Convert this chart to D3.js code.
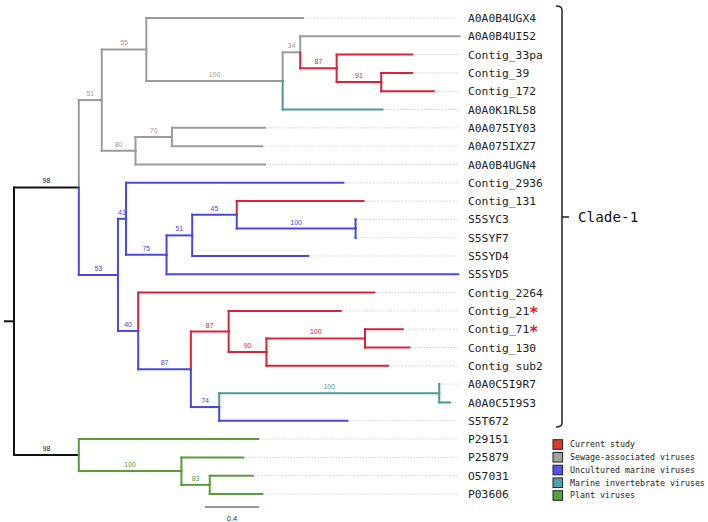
<!DOCTYPE html>
<html>
<head>
<meta charset="utf-8">
<script src="https://cdn.jsdelivr.net/npm/d3@7/dist/d3.min.js"></script>
<style>
  html, body { margin: 0; padding: 0; background: #fff; }
  svg { display: block; }
</style>
</head>
<body>
<svg id="chart" width="708" height="522"></svg>
<script>
// ---------------- DATA ----------------
const leafNames = [
  "A0A0B4UGX4","A0A0B4UI52","Contig_33pa","Contig_39","Contig_172","A0A0K1RL58",
  "A0A075IY03","A0A075IXZ7","A0A0B4UGN4","Contig_2936","Contig_131","S5SYC3",
  "S5SYF7","S5SYD4","S5SYD5","Contig_2264","Contig_21","Contig_71","Contig_130",
  "Contig sub2","A0A0C5I9R7","A0A0C5I9S3","S5T672","P29151","P25879","O57031","P03606"
];
const starredLeaves = ["Contig_21","Contig_71"];

// node id, parent id, branch length (substitutions/site), bootstrap support, group
const treeNodes = [
  ["root", "", 0, null, "root"],
  ["E", "root", 0.48, 98, "root"],
  ["G0", "root", 0.48, 98, "root"],
  ["X1", "E", 0.17, 51, "sewage"],
  ["F", "E", 0.29, 53, "marine"],
  ["A", "X1", 0.33, 55, "sewage"],
  ["C", "X1", 0.25, 80, "sewage"],
  ["A0A0B4UGX4", "A", 1.16, null, "sewage"],
  ["B", "A", 1.01, 100, "sewage"],
  ["U", "B", 0.13, 34, "sewage"],
  ["A0A0K1RL58", "B", 0.74, null, "invert"],
  ["A0A0B4UI52", "U", 1.18, null, "sewage"],
  ["V", "U", 0.27, 87, "current"],
  ["Contig_33pa", "V", 0.56, null, "current"],
  ["W", "V", 0.33, 91, "current"],
  ["Contig_39", "W", 0.23, null, "current"],
  ["Contig_172", "W", 0.39, null, "current"],
  ["D", "C", 0.27, 70, "sewage"],
  ["A0A075IY03", "D", 0.69, null, "sewage"],
  ["A0A075IXZ7", "D", 0.67, null, "sewage"],
  ["A0A0B4UGN4", "C", 0.96, null, "sewage"],
  ["G", "F", 0.06, 41, "marine"],
  ["L", "F", 0.15, 40, "marine"],
  ["Contig_2936", "G", 1.61, null, "marine"],
  ["H", "G", 0.30, 75, "marine"],
  ["I", "H", 0.19, 51, "marine"],
  ["S5SYD5", "H", 2.16, null, "marine"],
  ["J", "I", 0.33, 45, "marine"],
  ["S5SYD4", "I", 0.86, null, "marine"],
  ["Contig_131", "J", 0.94, null, "current"],
  ["K", "J", 0.88, 100, "marine"],
  ["S5SYC3", "K", 0.0, null, "marine"],
  ["S5SYF7", "K", 0.0, null, "marine"],
  ["Contig_2264", "L", 1.75, null, "current"],
  ["M", "L", 0.39, 87, "marine"],
  ["N", "M", 0.28, 87, "current"],
  ["Q", "M", 0.21, 74, "marine"],
  ["Contig_21", "N", 0.83, null, "current"],
  ["O", "N", 0.28, 90, "current"],
  ["P", "O", 0.73, 100, "current"],
  ["Contig sub2", "O", 0.90, null, "current"],
  ["Contig_71", "P", 0.28, null, "current"],
  ["Contig_130", "P", 0.33, null, "current"],
  ["R", "Q", 1.63, 100, "invert"],
  ["S5T672", "Q", 0.95, null, "marine"],
  ["A0A0C5I9R7", "R", 0.0, null, "invert"],
  ["A0A0C5I9S3", "R", 0.08, null, "invert"],
  ["P29151", "G0", 1.33, null, "plant"],
  ["S", "G0", 0.76, 100, "plant"],
  ["P25879", "S", 0.46, null, "plant"],
  ["T", "S", 0.21, 83, "plant"],
  ["O57031", "T", 0.32, null, "plant"],
  ["P03606", "T", 0.39, null, "plant"]
];

const legendLabels = ["Current study","Sewage-associated viruses","Uncultured marine viruses","Marine invertebrate viruses","Plant viruses"];
const legendGroups = ["current","sewage","marine","invert","plant"];
const cladeLabel = "Clade-1";
const scaleBarValue = 0.4;

// ---------------- STYLE ----------------
const branchColor = {root:"#111111", sewage:"#9b9b9b", current:"#d8233a", marine:"#4848dc", invert:"#4a9a9c", plant:"#5b9b3c"};
const legendColor = {current:"#db3b2b", sewage:"#a3a3a3", marine:"#5353ee", invert:"#4ba4a9", plant:"#56a33e"};
const mono = "'DejaVu Sans Mono', monospace";

// ---------------- BUILD ----------------
const svg = d3.select("#chart");

const root = d3.stratify()
  .id(d => d[0])
  .parentId(d => d[1] === "" ? null : d[1])(treeNodes);

root.eachBefore(n => { n.dist = n.parent ? n.parent.dist + n.data[2] : 0; });

const x = d3.scaleLinear().domain([0, 3.3]).range([14, 14 + 3.3 * 135]);
const yLeaf = d3.scalePoint().domain(leafNames).range([18, 494]);

root.eachAfter(n => {
  if (!n.children) n.yPos = yLeaf(n.id);
  else n.yPos = (n.children[0].yPos + n.children[n.children.length - 1].yPos) / 2;
});

const gTree = svg.append("g");
const lineEnd = 458;

// dotted leaf guides
gTree.selectAll("line.guide").data(root.leaves()).join("line")
  .attr("x1", d => x(d.dist) + 2).attr("x2", lineEnd)
  .attr("y1", d => d.yPos).attr("y2", d => d.yPos)
  .attr("stroke", "#c8c8c8").attr("stroke-width", 0.8).attr("stroke-dasharray", "1.5,1.5");

// horizontal branches
gTree.selectAll("line.h").data(root.descendants().filter(d => d.parent)).join("line")
  .attr("x1", d => x(d.parent.dist)).attr("x2", d => x(d.dist))
  .attr("y1", d => d.yPos).attr("y2", d => d.yPos)
  .attr("stroke", d => branchColor[d.data[4]]).attr("stroke-width", 2).attr("stroke-linecap", "square");

// vertical connectors, each half coloured by child
const vData = [];
root.descendants().filter(d => d.children).forEach(n => {
  n.children.forEach(c => vData.push({n, c}));
});
gTree.selectAll("line.v").data(vData).join("line")
  .attr("x1", d => x(d.n.dist)).attr("x2", d => x(d.n.dist))
  .attr("y1", d => d.n.yPos).attr("y2", d => d.c.yPos)
  .attr("stroke", d => branchColor[d.c.data[4]]).attr("stroke-width", 2).attr("stroke-linecap", "square");

// root stub
gTree.append("line")
  .attr("x1", x(0) - 10).attr("x2", x(0))
  .attr("y1", root.yPos).attr("y2", root.yPos)
  .attr("stroke", branchColor.root).attr("stroke-width", 2);

// support labels
gTree.selectAll("text.sup").data(root.descendants().filter(d => d.parent && d.data[3] != null)).join("text")
  .attr("x", d => (x(d.parent.dist) + x(d.dist)) / 2)
  .attr("y", d => d.yPos - 4)
  .attr("text-anchor", "middle")
  .attr("font-family", "'Liberation Sans', Arial, sans-serif")
  .attr("font-size", 7)
  .attr("fill", d => branchColor[d.data[4]])
  .text(d => d.data[3]);

// leaf labels
const lbl = gTree.selectAll("text.leaf").data(root.leaves()).join("text")
  .attr("x", 468).attr("y", d => d.yPos)
  .attr("dy", "0.36em")
  .attr("font-family", mono).attr("font-size", 11.3).attr("fill", "#222")
  .text(d => d.id);
lbl.filter(d => starredLeaves.includes(d.id)).append("tspan")
  .attr("fill", "#e02020").attr("font-weight", "bold").attr("font-size", 15)
  .attr("dy", "0.22em").text("*");

// clade bracket
const bx = 562, bTop = 6, bBot = 427, bMid = 217;
svg.append("path")
  .attr("d", `M${bx-6},${bTop} Q${bx},${bTop} ${bx},${bTop+4} L${bx},${bBot-4} Q${bx},${bBot} ${bx-6},${bBot} M${bx},${bMid} L${bx+7},${bMid}`)
  .attr("fill", "none").attr("stroke", "#222").attr("stroke-width", 1.5);
svg.append("text").attr("x", 578).attr("y", bMid).attr("dy", "0.36em")
  .attr("font-family", mono).attr("font-size", 14.3).attr("fill", "#111").text(cladeLabel);

// legend
const lg = svg.append("g");
legendGroups.forEach((g, i) => {
  const yy = 444.5 + i * 12.75;
  lg.append("rect").attr("x", 553).attr("y", yy - 4.8).attr("width", 9.6).attr("height", 9.6)
    .attr("fill", legendColor[g]).attr("stroke", "#222").attr("stroke-width", 1);
  lg.append("text").attr("x", 570).attr("y", yy).attr("dy", "0.35em")
    .attr("font-family", mono).attr("font-size", 8.3).attr("fill", "#222").text(legendLabels[i]);
});

// scale bar
const sbX = 205, sbY = 507;
const sbLen = x(scaleBarValue) - x(0);
svg.append("line").attr("x1", sbX).attr("x2", sbX + sbLen).attr("y1", sbY).attr("y2", sbY)
  .attr("stroke", "#999").attr("stroke-width", 2);
svg.append("text").attr("x", sbX + sbLen / 2).attr("y", sbY + 14).attr("text-anchor", "middle")
  .attr("font-family", "'Liberation Sans', Arial, sans-serif").attr("font-size", 7.5).attr("fill", "#333")
  .text(scaleBarValue);
</script>
</body>
</html>
